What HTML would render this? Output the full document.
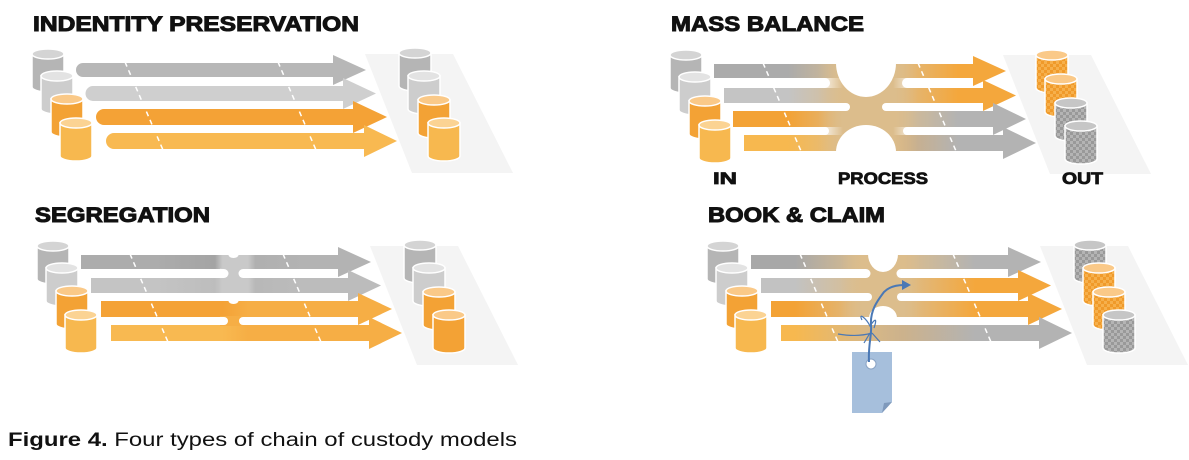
<!DOCTYPE html>
<html><head><meta charset="utf-8"><style>
html,body{margin:0;padding:0;background:#fff;width:1189px;height:460px;overflow:hidden}
svg{display:block}
.t{font-family:"Liberation Sans",sans-serif;font-weight:bold;font-size:21px;fill:#111;stroke:#111;stroke-width:1}
.l{font-family:"Liberation Sans",sans-serif;font-weight:bold;font-size:17px;fill:#111;stroke:#111;stroke-width:0.8}
</style></head><body>
<svg width="1189" height="460" viewBox="0 0 1189 460" xmlns="http://www.w3.org/2000/svg">
<defs>
<pattern id="chkO" width="6" height="6" patternUnits="userSpaceOnUse"><rect width="6" height="6" fill="#f6b04c"/><rect width="3" height="3" fill="#f09a2a"/><rect x="3" y="3" width="3" height="3" fill="#f09a2a"/></pattern>
<pattern id="chkG" width="6" height="6" patternUnits="userSpaceOnUse"><rect width="6" height="6" fill="#b4b4b4"/><rect width="3" height="3" fill="#999"/><rect x="3" y="3" width="3" height="3" fill="#999"/></pattern>
<symbol id="cG" viewBox="0 0 34 46"><path d="M1,6 V39 A16,5 0 0 0 33,39 V6 Z" fill="#b5b5b5" stroke="#fff" stroke-width="1.5"/><ellipse cx="17" cy="6" rx="16" ry="5" fill="#d4d4d4" stroke="#fff" stroke-width="1.5"/></symbol>
<symbol id="cL" viewBox="0 0 34 46"><path d="M1,6 V39 A16,5 0 0 0 33,39 V6 Z" fill="#cdcdcd" stroke="#fff" stroke-width="1.5"/><ellipse cx="17" cy="6" rx="16" ry="5" fill="#e3e3e3" stroke="#fff" stroke-width="1.5"/></symbol>
<symbol id="cO" viewBox="0 0 34 46"><path d="M1,6 V39 A16,5 0 0 0 33,39 V6 Z" fill="#f3a235" stroke="#fff" stroke-width="1.5"/><ellipse cx="17" cy="6" rx="16" ry="5" fill="#fac988" stroke="#fff" stroke-width="1.5"/></symbol>
<symbol id="cY" viewBox="0 0 34 46"><path d="M1,6 V39 A16,5 0 0 0 33,39 V6 Z" fill="#f7b84f" stroke="#fff" stroke-width="1.5"/><ellipse cx="17" cy="6" rx="16" ry="5" fill="#fbd393" stroke="#fff" stroke-width="1.5"/></symbol>
<symbol id="kO" viewBox="0 0 34 46"><path d="M1,6 V39 A16,5 0 0 0 33,39 V6 Z" fill="url(#chkO)" stroke="#fff" stroke-width="1.5"/><ellipse cx="17" cy="6" rx="16" ry="5" fill="#fac988" stroke="#fff" stroke-width="1.5"/></symbol>
<symbol id="kG" viewBox="0 0 34 46"><path d="M1,6 V39 A16,5 0 0 0 33,39 V6 Z" fill="url(#chkG)" stroke="#fff" stroke-width="1.5"/><ellipse cx="17" cy="6" rx="16" ry="5" fill="#c6c6c6" stroke="#fff" stroke-width="1.5"/></symbol>

<linearGradient id="m1" gradientUnits="userSpaceOnUse" x1="150" y1="0" x2="320" y2="0"><stop offset="0" stop-color="#ababab"/><stop offset="0.4" stop-color="#dcbd8c"/><stop offset="0.6" stop-color="#dcbd8c"/><stop offset="1" stop-color="#f4a73c"/></linearGradient>
<linearGradient id="m2" gradientUnits="userSpaceOnUse" x1="150" y1="0" x2="320" y2="0"><stop offset="0" stop-color="#c4c4c4"/><stop offset="0.4" stop-color="#dcbd8c"/><stop offset="0.6" stop-color="#dcbd8c"/><stop offset="1" stop-color="#f4a73c"/></linearGradient>
<linearGradient id="m3" gradientUnits="userSpaceOnUse" x1="150" y1="0" x2="320" y2="0"><stop offset="0" stop-color="#f3a235"/><stop offset="0.4" stop-color="#dcbd8c"/><stop offset="0.6" stop-color="#dcbd8c"/><stop offset="1" stop-color="#b3b3b3"/></linearGradient>
<linearGradient id="m4" gradientUnits="userSpaceOnUse" x1="150" y1="0" x2="320" y2="0"><stop offset="0" stop-color="#f7b84f"/><stop offset="0.4" stop-color="#dcbd8c"/><stop offset="0.6" stop-color="#d4ae7a"/><stop offset="1" stop-color="#b3b3b3"/></linearGradient>
<linearGradient id="mt" gradientUnits="userSpaceOnUse" x1="180" y1="0" x2="280" y2="0"><stop offset="0" stop-color="#dcbd8c" stop-opacity="0"/><stop offset="0.25" stop-color="#dcbd8c"/><stop offset="0.75" stop-color="#dcbd8c"/><stop offset="1" stop-color="#dcbd8c" stop-opacity="0"/></linearGradient>

<linearGradient id="b1" gradientUnits="userSpaceOnUse" x1="120" y1="0" x2="300" y2="0"><stop offset="0" stop-color="#a8a8a8"/><stop offset="0.4" stop-color="#dcbd8c"/><stop offset="0.6" stop-color="#dcbd8c"/><stop offset="1" stop-color="#b3b3b3"/></linearGradient>
<linearGradient id="b2" gradientUnits="userSpaceOnUse" x1="120" y1="0" x2="300" y2="0"><stop offset="0" stop-color="#c2c2c2"/><stop offset="0.4" stop-color="#dcbd8c"/><stop offset="0.6" stop-color="#dcbd8c"/><stop offset="1" stop-color="#f4a73c"/></linearGradient>
<linearGradient id="b3" gradientUnits="userSpaceOnUse" x1="120" y1="0" x2="300" y2="0"><stop offset="0" stop-color="#f3a235"/><stop offset="0.4" stop-color="#dcbd8c"/><stop offset="0.6" stop-color="#dcbd8c"/><stop offset="1" stop-color="#f4a73c"/></linearGradient>
<linearGradient id="b4" gradientUnits="userSpaceOnUse" x1="120" y1="0" x2="300" y2="0"><stop offset="0" stop-color="#f7b84f"/><stop offset="0.4" stop-color="#d8b886"/><stop offset="0.6" stop-color="#ccb28c"/><stop offset="1" stop-color="#b3b3b3"/></linearGradient>
<linearGradient id="bt" gradientUnits="userSpaceOnUse" x1="165" y1="0" x2="245" y2="0"><stop offset="0" stop-color="#dcbd8c" stop-opacity="0"/><stop offset="0.3" stop-color="#dcbd8c"/><stop offset="0.7" stop-color="#dcbd8c"/><stop offset="1" stop-color="#dcbd8c" stop-opacity="0"/></linearGradient>

<linearGradient id="s1" gradientUnits="userSpaceOnUse" x1="150" y1="0" x2="300" y2="0"><stop offset="0" stop-color="#acacac"/><stop offset="0.4" stop-color="#a4a4a4"/><stop offset="0.45" stop-color="#c9c9c9"/><stop offset="0.62" stop-color="#c9c9c9"/><stop offset="0.67" stop-color="#b0b0b0"/><stop offset="1" stop-color="#b3b3b3"/></linearGradient>
<linearGradient id="s2" gradientUnits="userSpaceOnUse" x1="150" y1="0" x2="300" y2="0"><stop offset="0" stop-color="#c4c4c4"/><stop offset="0.4" stop-color="#bdbdbd"/><stop offset="0.45" stop-color="#c9c9c9"/><stop offset="0.62" stop-color="#c9c9c9"/><stop offset="0.67" stop-color="#b8b8b8"/><stop offset="1" stop-color="#bcbcbc"/></linearGradient>
<linearGradient id="s3" gradientUnits="userSpaceOnUse" x1="150" y1="0" x2="300" y2="0"><stop offset="0" stop-color="#f4a236"/><stop offset="0.45" stop-color="#f4a236"/><stop offset="0.62" stop-color="#f6ae45"/><stop offset="1" stop-color="#f6ae45"/></linearGradient>
<linearGradient id="s4" gradientUnits="userSpaceOnUse" x1="150" y1="0" x2="300" y2="0"><stop offset="0" stop-color="#f8b951"/><stop offset="0.45" stop-color="#f8b951"/><stop offset="0.62" stop-color="#f6ae45"/><stop offset="1" stop-color="#f6ae45"/></linearGradient>
</defs>

<!-- PANEL 1 -->
<g>
<polygon points="365,54 453,54 513,173 412,173" fill="#f4f4f4"/>
<use href="#cG" x="31" y="48" width="34" height="46"/>
<use href="#cL" x="40" y="70" width="34" height="46"/>
<use href="#cO" x="50" y="93" width="34" height="46"/>
<use href="#cY" x="59" y="117" width="34" height="46"/>
<path d="M83,63 H333 V55 L366,70 L333,85 V77 H83 A7,7 0 0 1 83,63 Z" fill="#b7b7b7"/>
<path d="M93,86 H343 V78 L376,93.5 L343,109 V101 H93 A7.5,7.5 0 0 1 93,86 Z" fill="#cfcfcf"/>
<path d="M104,109 H353 V101 L387,117 L353,133 V125 H104 A8,8 0 0 1 104,109 Z" fill="#f4a236"/>
<path d="M114,133 H364 V125 L397,141 L364,157 V149 H114 A8,8 0 0 1 114,133 Z" fill="#f8b951"/>
<g stroke="#fff" stroke-width="1.5" stroke-dasharray="5,4"><line x1="125" y1="62" x2="163" y2="150"/><line x1="278" y1="62" x2="316" y2="150"/></g>
<use href="#cG" x="398" y="47" width="34" height="46"/>
<use href="#cL" x="407" y="70" width="34" height="46"/>
<use href="#cO" x="417" y="94" width="34" height="46"/>
<use href="#cY" x="427" y="117" width="34" height="46"/>
</g>

<!-- PANEL 3 SEGREGATION -->
<g transform="translate(5,192)">
<polygon points="365,54 453,54 513,173 412,173" fill="#f4f4f4"/>
<use href="#cG" x="31" y="48" width="34" height="46"/>
<use href="#cL" x="40" y="70" width="34" height="46"/>
<use href="#cO" x="50" y="93" width="34" height="46"/>
<use href="#cY" x="59" y="117" width="34" height="46"/>
<path d="M76,63 H333 V55 L366,70 L333,85 V77 H76 Z" fill="url(#s1)"/>
<path d="M86,86 H343 V78 L376,93.5 L343,109 V101 H86 Z" fill="url(#s2)"/>
<path d="M96,109 H353 V101 L387,117 L353,133 V125 H96 Z" fill="url(#s3)"/>
<path d="M106,133 H364 V125 L397,141 L364,157 V149 H106 Z" fill="url(#s4)"/>
<rect x="215" y="76" width="26" height="11" fill="#c9c9c9"/>
<rect x="215" y="124" width="26" height="10" fill="#f6ae45"/>
<path d="M190,77 H219 A4.5,4.5 0 0 1 219,86 H190 Z" fill="#fff"/>
<path d="M265,77 H238 A4.5,4.5 0 0 0 238,86 H265 Z" fill="#fff"/>
<path d="M190,125 H219 A4,4 0 0 1 219,133 H190 Z" fill="#fff"/>
<path d="M265,125 H238 A4,4 0 0 0 238,133 H265 Z" fill="#fff"/>
<path d="M223.5,63 A5,3 0 0 0 233.5,63 Z" fill="#fff"/>
<path d="M223.5,109 A5,3 0 0 0 233.5,109 Z" fill="#fff"/>
<g stroke="#fff" stroke-width="1.5" stroke-dasharray="5,4"><line x1="125" y1="62" x2="163" y2="150"/><line x1="278" y1="62" x2="316" y2="150"/></g>
<use href="#cG" x="398" y="47" width="34" height="46"/>
<use href="#cL" x="407" y="70" width="34" height="46"/>
<use href="#cO" x="417" y="94" width="34" height="46"/>
<use href="#cO" x="427" y="117" width="34" height="46"/>
</g>

<!-- PANEL 2 MASS BALANCE -->
<g transform="translate(638,1)">
<polygon points="365,54 453,54 513,173 412,173" fill="#f4f4f4"/>
<use href="#cG" x="31" y="48" width="34" height="46"/>
<use href="#cL" x="40" y="70" width="34" height="46"/>
<use href="#cO" x="50" y="94" width="34" height="46"/>
<use href="#cY" x="60" y="118" width="34" height="46"/>
<path d="M76,63 H335 V55 L368,70 L335,85 V77 H76 Z" fill="url(#m1)"/>
<path d="M86,87 H345 V79 L378,94.5 L345,110 V102 H86 Z" fill="url(#m2)"/>
<path d="M95,110 H355 V102 L388,118 L355,134 V126 H95 Z" fill="url(#m3)"/>
<path d="M106,134 H365 V126 L398,142 L365,158 V150 H106 Z" fill="url(#m4)"/>
<rect x="180" y="63" width="100" height="87" fill="url(#mt)"/>
<path d="M150,77 H187 A5,5 0 0 1 187,87 H150 Z" fill="#fff"/>
<path d="M150,102 H208 A4,4 0 0 1 208,110 H150 Z" fill="#fff"/>
<path d="M150,126 H187 A4,4 0 0 1 187,134 H150 Z" fill="#fff"/>
<path d="M330,77 H269 A5,5 0 0 0 269,87 H330 Z" fill="#fff"/>
<path d="M330,102 H248 A4,4 0 0 0 248,110 H330 Z" fill="#fff"/>
<path d="M330,126 H269 A4,4 0 0 0 269,134 H330 Z" fill="#fff"/>
<path d="M198,62 A30,34 0 0 0 258,62 Z" fill="#fff"/>
<path d="M198,151 A30,27 0 0 1 258,151 Z" fill="#fff"/>
<g stroke="#fff" stroke-width="1.5" stroke-dasharray="5,4"><line x1="125" y1="62" x2="163" y2="150"/><line x1="280" y1="62" x2="318" y2="150"/></g>
<use href="#kO" x="397" y="48" width="34" height="46"/>
<use href="#kO" x="406" y="72" width="34" height="46"/>
<use href="#kG" x="416" y="96" width="34" height="46"/>
<use href="#kG" x="426" y="119" width="34" height="46"/>
</g>

<!-- PANEL 4 BOOK & CLAIM -->
<g transform="translate(675,192)">
<polygon points="365,54 453,54 513,173 412,173" fill="#f4f4f4"/>
<use href="#cG" x="31" y="48" width="34" height="46"/>
<use href="#cL" x="40" y="70" width="34" height="46"/>
<use href="#cO" x="50" y="93" width="34" height="46"/>
<use href="#cY" x="59" y="117" width="34" height="46"/>
<path d="M76,63 H333 V55 L366,70 L333,85 V77 H76 Z" fill="url(#b1)"/>
<path d="M86,86 H343 V78 L376,93.5 L343,109 V101 H86 Z" fill="url(#b2)"/>
<path d="M96,109 H353 V101 L387,117 L353,133 V125 H96 Z" fill="url(#b3)"/>
<path d="M106,133 H364 V125 L397,141 L364,157 V149 H106 Z" fill="url(#b4)"/>
<rect x="165" y="63" width="80" height="62" fill="url(#bt)"/>
<path d="M140,77 H191 A4.5,4.5 0 0 1 191,86 H140 Z" fill="#fff"/>
<path d="M140,101 H193 A4,4 0 0 1 193,109 H140 Z" fill="#fff"/>
<path d="M140,125 H340 V133 H140 Z" fill="#fff"/>
<path d="M300,77 H226 A4.5,4.5 0 0 0 226,86 H300 Z" fill="#fff"/>
<path d="M300,101 H226 A4,4 0 0 0 226,109 H300 Z" fill="#fff"/>
<path d="M193,62 A15,18 0 0 0 223,62 Z" fill="#fff"/>
<path d="M194,126 A14,12 0 0 1 222,126 Z" fill="#fff"/>
<g stroke="#fff" stroke-width="1.5" stroke-dasharray="5,4"><line x1="125" y1="62" x2="163" y2="150"/><line x1="278" y1="62" x2="316" y2="150"/></g>
<use href="#kG" x="398" y="47" width="34" height="46"/>
<use href="#kO" x="407" y="70" width="34" height="46"/>
<use href="#kO" x="417" y="94" width="34" height="46"/>
<use href="#kG" x="427" y="117" width="34" height="46"/>
</g>

<text class="t" x="33" y="31" textLength="326" lengthAdjust="spacingAndGlyphs">INDENTITY PRESERVATION</text>
<text class="t" x="671" y="31" textLength="193" lengthAdjust="spacingAndGlyphs">MASS BALANCE</text>
<text class="t" x="35" y="222" textLength="175" lengthAdjust="spacingAndGlyphs">SEGREGATION</text>
<text class="t" x="708" y="222" textLength="177" lengthAdjust="spacingAndGlyphs">BOOK &amp; CLAIM</text>
<text class="l" x="713" y="184" textLength="24" lengthAdjust="spacingAndGlyphs">IN</text>
<text class="l" x="838" y="184" textLength="90" lengthAdjust="spacingAndGlyphs">PROCESS</text>
<text class="l" x="1062" y="184" textLength="41" lengthAdjust="spacingAndGlyphs">OUT</text>

<!-- tag -->
<path d="M852,352 H892 V402 L882,413 H852 Z" fill="#a6bfdc"/>
<path d="M892,402 L882,413 L884,403 Z" fill="#7f99bb"/>
<circle cx="871" cy="364" r="5" fill="#fff" stroke="#8aa3c4" stroke-width="1"/>
<path d="M869,362 C868,345 872,335 871,325 C870,310 878,300 884,292 C890,286 898,285 904,285" fill="none" stroke="#4a78b5" stroke-width="2"/>
<path d="M902,280 L911,285 L902,290 Z" fill="#4a78b5"/>
<path d="M838,334 C850,336 862,336 872,333 M862,320 C858,312 866,318 870,326 C874,320 878,316 874,328 M872,333 L880,342 M870,333 L864,343" fill="none" stroke="#4a78b5" stroke-width="1.2"/>

<text x="8" y="446" font-family="'Liberation Sans',sans-serif" font-size="19" fill="#111" textLength="509" lengthAdjust="spacingAndGlyphs"><tspan font-weight="bold">Figure 4.</tspan> Four types of chain of custody models</text>
</svg>
</body></html>
